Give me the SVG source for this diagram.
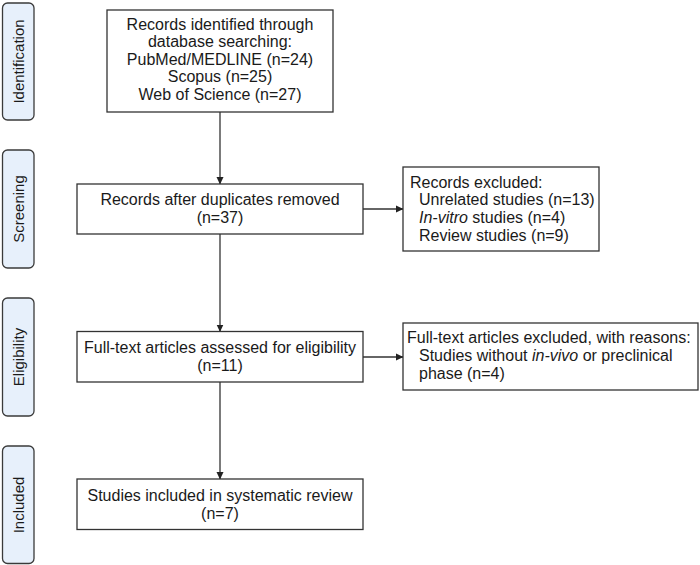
<svg xmlns="http://www.w3.org/2000/svg" width="700" height="565" viewBox="0 0 700 565">
<style>
  .side { fill: #e7f0fb; stroke: #3a3a3a; stroke-width: 1.3; }
  .box { fill: #ffffff; stroke: #333333; stroke-width: 1.3; }
  .t { font-family: "Liberation Sans", Arial, sans-serif; font-size: 16px; fill: #1a1a1a; }
  .c { text-anchor: middle; }
  .s { font-family: "Liberation Sans", Arial, sans-serif; font-size: 15px; fill: #1a1a1a; text-anchor: middle; }
  .conn { stroke: #333333; stroke-width: 1.3; fill: none; marker-end: url(#arr); }
  .i { font-style: italic; }
</style>
<defs>
  <marker id="arr" markerWidth="8" markerHeight="8" refX="7" refY="4" orient="auto" markerUnits="userSpaceOnUse">
    <path d="M0,0.5 L7.5,4 L0,7.5 Z" fill="#222222"/>
  </marker>
</defs>
<rect width="700" height="565" fill="#ffffff"/>

<g id="side-identification">
  <rect class="side" x="2.5" y="3" width="31.5" height="117" rx="5"/>
  <text class="s" transform="translate(18.5,61.5) rotate(-90)" y="5.5">Identification</text>
</g>
<g id="side-screening">
  <rect class="side" x="2.5" y="150" width="31.5" height="118" rx="5"/>
  <text class="s" transform="translate(18.5,209) rotate(-90)" y="5.5">Screening</text>
</g>
<g id="side-eligibility">
  <rect class="side" x="2.5" y="298" width="31.5" height="118" rx="5"/>
  <text class="s" transform="translate(18.5,357) rotate(-90)" y="5.5">Eligibility</text>
</g>
<g id="side-included">
  <rect class="side" x="2.5" y="446" width="31.5" height="117.5" rx="5"/>
  <text class="s" transform="translate(18.5,505) rotate(-90)" y="5.5">Included</text>
</g>

<g id="connectors">
  <line class="conn" x1="220" y1="112" x2="220" y2="184"/>
  <line class="conn" x1="220" y1="234" x2="220" y2="331.5"/>
  <line class="conn" x1="220" y1="382" x2="220" y2="479"/>
  <line class="conn" x1="363" y1="209" x2="403" y2="209"/>
  <line class="conn" x1="363" y1="357" x2="403" y2="357"/>
</g>

<g id="identified">
  <rect class="box" x="107" y="10" width="226" height="102"/>
  <text class="t c" x="220" y="29.5">Records identified through</text>
  <text class="t c" x="220" y="47.1">database searching:</text>
  <text class="t c" x="220" y="64.7">PubMed/MEDLINE (n=24)</text>
  <text class="t c" x="220" y="82.3">Scopus (n=25)</text>
  <text class="t c" x="220" y="99.9">Web of Science (n=27)</text>
</g>

<g id="screened">
  <rect class="box" x="77" y="184" width="286" height="50"/>
  <text class="t c" x="220" y="205">Records after duplicates removed</text>
  <text class="t c" x="220" y="223">(n=37)</text>
</g>

<g id="excluded-records">
  <rect class="box" x="403" y="167" width="196" height="84"/>
  <text class="t" x="410" y="187.5">Records excluded:</text>
  <text class="t" x="419" y="205.2">Unrelated studies (n=13)</text>
  <text class="t" x="419" y="222.9"><tspan class="i">In-vitro</tspan> studies (n=4)</text>
  <text class="t" x="419" y="240.6">Review studies (n=9)</text>
</g>

<g id="eligibility">
  <rect class="box" x="77" y="331.5" width="286" height="50.5"/>
  <text class="t c" x="220" y="353">Full-text articles assessed for eligibility</text>
  <text class="t c" x="220" y="371">(n=11)</text>
</g>

<g id="excluded-fulltext">
  <rect class="box" x="403" y="323" width="295" height="67"/>
  <text class="t" x="407" y="343">Full-text articles excluded, with reasons:</text>
  <text class="t" x="419" y="361">Studies without <tspan class="i">in-vivo</tspan> or preclinical</text>
  <text class="t" x="419" y="379">phase (n=4)</text>
</g>

<g id="included">
  <rect class="box" x="77" y="479" width="286" height="50.5"/>
  <text class="t c" x="220" y="500.5">Studies included in systematic review</text>
  <text class="t c" x="220" y="518.5">(n=7)</text>
</g>
</svg>
